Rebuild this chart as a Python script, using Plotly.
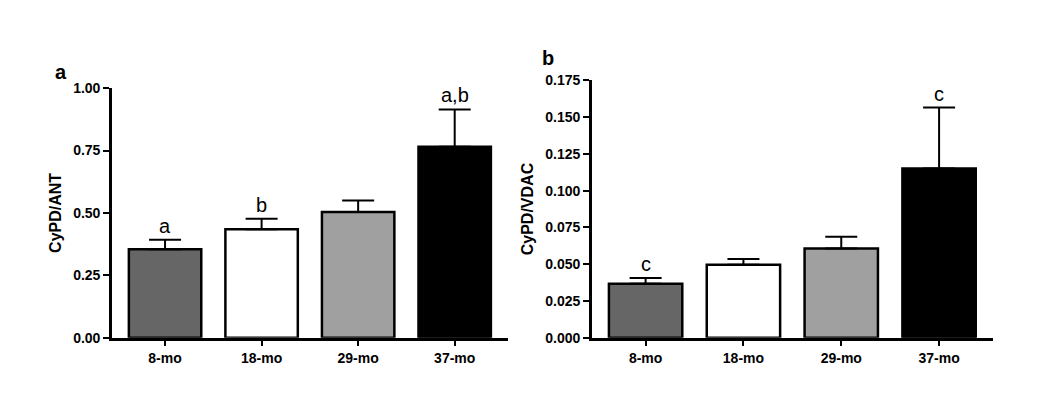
import plotly.graph_objects as go

groups = ["8-mo", "18-mo", "29-mo", "37-mo"]
colors = ["#666666", "#ffffff", "#a0a0a0", "#000000"]

ant_mean = [0.354, 0.435, 0.504, 0.765]
ant_err = [0.038, 0.042, 0.046, 0.150]
ant_letters = ["a", "b", "", "a,b"]

vdac_mean = [0.0366, 0.0496, 0.0607, 0.1150]
vdac_err = [0.0039, 0.0039, 0.0079, 0.0415]
vdac_letters = ["c", "", "", "c"]

font = "Liberation Sans, Arial, sans-serif"
fig = go.Figure()

for mean, err, xa, ya in [(ant_mean, ant_err, "x", "y"), (vdac_mean, vdac_err, "x2", "y2")]:
    fig.add_trace(go.Bar(
        x=groups, y=mean, xaxis=xa, yaxis=ya,
        marker=dict(color=colors, line=dict(color="black", width=2.5)),
        width=0.75,
        error_y=dict(type="data", array=err, arrayminus=[0] * 4, symmetric=False,
                     color="black", thickness=2, width=16),
        showlegend=False,
    ))

annotations = []
for mean, err, letters, xa, ya in [(ant_mean, ant_err, ant_letters, "x", "y"),
                                   (vdac_mean, vdac_err, vdac_letters, "x2", "y2")]:
    for g, m, e, t in zip(groups, mean, err, letters):
        if t:
            annotations.append(dict(x=g, y=m + e, xref=xa, yref=ya, text=t, showarrow=False,
                                    yanchor="bottom", yshift=1, font=dict(size=20, color="black")))
annotations.append(dict(x=0.043, y=0.89, xref="paper", yref="paper", text="<b>a</b>",
                        showarrow=False, font=dict(size=20, color="black")))
annotations.append(dict(x=0.514, y=0.925, xref="paper", yref="paper", text="<b>b</b>",
                        showarrow=False, font=dict(size=20, color="black")))

xstyle = dict(showline=True, linecolor="black", linewidth=2.5, ticks="outside", ticklen=6,
              tickwidth=2, tickcolor="black", tickfont=dict(size=14, color="black", family=font),
              range=[-0.55, 3.55], tickprefix="<b>", ticksuffix="</b>")
ystyle = dict(showline=True, linecolor="black", linewidth=2.5, ticks="outside", ticklen=6,
              tickwidth=2, tickcolor="black", showgrid=False, zeroline=False,
              tickfont=dict(size=14, color="black", family=font),
              tickprefix="<b>", ticksuffix="</b>")

fig.update_layout(
    width=1050, height=404, plot_bgcolor="white", paper_bgcolor="white",
    margin=dict(l=0, r=0, t=0, b=0),
    font=dict(family=font, color="black"),
    xaxis=dict(domain=[0.099, 0.476], anchor="y", **xstyle),
    yaxis=dict(domain=[0.171, 0.814], anchor="x", range=[0, 1.0], dtick=0.25, tickformat=".2f",
               title=dict(text="<b>CyPD/ANT</b>", font=dict(size=16), standoff=8), **ystyle),
    xaxis2=dict(domain=[0.556, 0.938], anchor="y2", **xstyle),
    yaxis2=dict(domain=[0.171, 0.834], anchor="x2", range=[0, 0.175], dtick=0.025, tickformat=".3f",
                title=dict(text="<b>CyPD/VDAC</b>", font=dict(size=16), standoff=8), **ystyle),
    annotations=annotations,
)

fig.write_html("out.html")
